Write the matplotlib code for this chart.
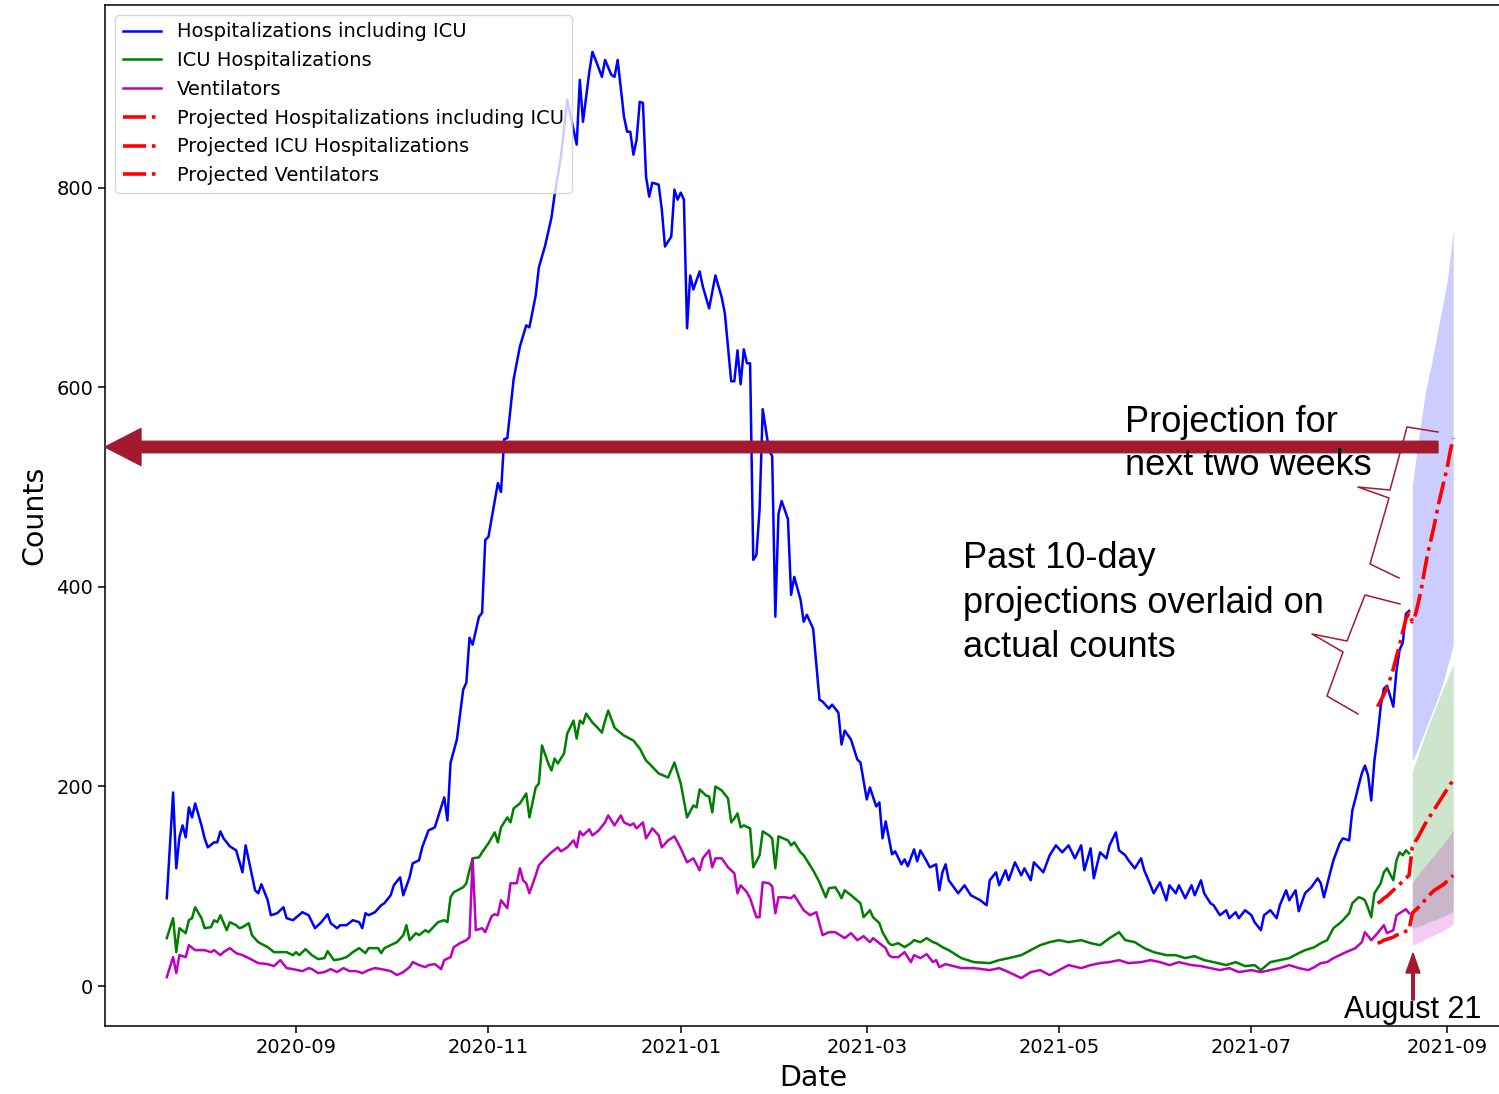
import numpy as np
import matplotlib
matplotlib.use("Agg")
import matplotlib.pyplot as plt
import matplotlib.dates as mdates
from matplotlib.patches import FancyArrow
from matplotlib.lines import Line2D

# data, days counted from the first reported day
start = np.datetime64("2020-07-22")

hosp_days = [0, 2, 3, 4, 5, 6, 7, 8, 9, 11, 12, 13, 15, 16, 17, 18, 20, 22, 24, 25, 26, 28, 29, 30,
             32, 33, 35, 37, 38, 40, 43, 45, 47, 49, 51, 52, 54, 55, 57, 59, 61, 62, 63, 64, 66, 68,
             69, 71, 72, 74, 75, 77, 78, 80, 81, 83, 85, 88, 89, 90, 92, 94, 95, 96, 97, 99, 100,
             101, 102, 105, 106, 107, 108, 110, 112, 114, 115, 117, 118, 120, 122, 123, 125, 127,
             130, 131, 132, 134, 135, 136, 138, 139, 141, 142, 143, 145, 146, 147, 148, 149, 150,
             151, 152, 153, 154, 156, 157, 158, 160, 161, 162, 163, 164, 165, 166, 167, 169, 170,
             172, 174, 176, 177, 179, 180, 181, 182, 183, 184, 185, 186, 187, 188, 189, 191, 192,
             193, 194, 195, 197, 198, 199, 201, 202, 203, 205, 207, 208, 210, 211, 213, 214, 215,
             217, 219, 220, 222, 223, 225, 226, 227, 228, 230, 231, 233, 234, 235, 237, 238, 239,
             241, 242, 244, 245, 246, 247, 248, 251, 253, 255, 258, 260, 261, 263, 264, 266, 267,
             269, 271, 272, 274, 275, 278, 280, 282, 284, 286, 288, 290, 291, 293, 294, 296, 298,
             299, 301, 302, 304, 305, 307, 309, 310, 312, 313, 315, 317, 318, 320, 321, 323, 325,
             326, 328, 329, 331, 332, 334, 336, 337, 339, 340, 342, 344, 345, 347, 348, 350, 352,
             353, 355, 356, 358, 359, 361, 363, 365, 366, 367, 369, 370, 372, 373, 375, 376, 377,
             378, 379, 380, 381, 382, 383, 384, 385, 386, 387, 389, 390, 391, 392, 393, 394]
hosp_vals = [88, 194, 118, 149, 161, 149, 179, 169, 183, 161, 148, 139, 144, 144, 155, 148, 140, 136,
             114, 141, 126, 96, 93, 102, 86, 71, 73, 79, 68, 66, 74, 71, 58, 64, 72, 63, 58, 61, 61,
             66, 64, 58, 73, 71, 74, 81, 83, 91, 101, 109, 91, 109, 123, 126, 139, 156, 159, 189,
             166, 224, 247, 297, 304, 349, 342, 370, 374, 447, 450, 504, 495, 548, 549, 608, 641,
             662, 660, 692, 720, 742, 770, 793, 831, 888, 843, 908, 866, 916, 936, 928, 911, 928,
             913, 911, 928, 871, 856, 856, 833, 848, 886, 885, 811, 791, 805, 803, 778, 741, 751,
             798, 788, 795, 788, 659, 712, 698, 716, 701, 679, 712, 690, 674, 606, 606, 637, 603,
             638, 624, 624, 427, 432, 477, 578, 537, 531, 370, 473, 486, 468, 392, 410, 387, 365,
             372, 358, 287, 285, 278, 282, 274, 242, 256, 247, 227, 224, 187, 199, 180, 184, 148,
             165, 132, 135, 122, 127, 120, 137, 125, 136, 125, 119, 122, 96, 114, 122, 106, 93, 101,
             91, 86, 81, 106, 114, 101, 116, 106, 124, 111, 118, 106, 124, 114, 131, 141, 134, 141,
             128, 141, 116, 138, 108, 134, 128, 141, 154, 136, 131, 126, 118, 128, 116, 101, 93,
             104, 86, 101, 93, 101, 88, 101, 91, 106, 93, 83, 81, 71, 76, 68, 74, 68, 76, 71, 64,
             56, 71, 76, 68, 81, 96, 86, 96, 75, 93, 99, 108, 103, 89, 114, 126, 143, 148, 146, 176,
             188, 201, 213, 221, 211, 186, 226, 250, 280, 298, 301, 280, 316, 337, 344, 373, 376]

icu_days = [0, 2, 3, 4, 6, 7, 8, 9, 11, 12, 14, 15, 16, 17, 19, 20, 22, 23, 24, 26, 27, 29, 32, 34,
            36, 38, 40, 41, 42, 44, 45, 46, 48, 50, 51, 53, 55, 57, 59, 61, 63, 64, 67, 68, 69, 71,
            73, 75, 76, 77, 79, 80, 82, 83, 86, 88, 89, 90, 91, 94, 95, 96, 97, 99, 100, 102, 104,
            105, 106, 108, 109, 110, 112, 114, 115, 117, 118, 119, 121, 122, 123, 124, 126, 127,
            129, 130, 131, 132, 133, 135, 136, 138, 139, 140, 142, 143, 145, 148, 150, 152, 153,
            156, 159, 161, 163, 165, 167, 168, 169, 171, 172, 173, 174, 176, 178, 179, 180, 181,
            182, 183, 185, 186, 188, 189, 191, 192, 193, 194, 197, 198, 199, 201, 202, 205, 207,
            209, 210, 212, 213, 214, 215, 217, 220, 221, 223, 224, 226, 227, 229, 230, 232, 234,
            236, 237, 239, 241, 243, 244, 246, 248, 252, 256, 261, 264, 267, 271, 274, 277, 280,
            283, 286, 290, 293, 296, 299, 302, 304, 307, 310, 313, 317, 320, 323, 326, 329, 332,
            336, 339, 342, 345, 347, 350, 353, 356, 359, 361, 364, 366, 368, 370, 372, 373, 375,
            376, 378, 379, 380, 381, 382, 383, 385, 386, 387, 389, 390, 391, 392, 393, 394]
icu_vals = [48, 68, 34, 58, 53, 66, 68, 79, 68, 58, 59, 66, 64, 71, 56, 64, 61, 58, 59, 63, 51, 44,
            39, 34, 34, 34, 31, 34, 31, 37, 34, 31, 27, 28, 35, 26, 27, 29, 34, 38, 33, 38, 38, 33,
            38, 41, 44, 51, 61, 46, 53, 51, 56, 54, 64, 66, 64, 89, 94, 99, 103, 116, 128, 129,
            134, 143, 154, 144, 159, 169, 164, 178, 183, 193, 169, 199, 203, 241, 223, 216, 228,
            223, 233, 253, 266, 248, 266, 263, 273, 264, 261, 254, 266, 276, 259, 256, 251, 246,
            238, 226, 223, 213, 209, 224, 203, 169, 181, 179, 197, 191, 190, 174, 200, 196, 188,
            164, 168, 173, 159, 161, 158, 119, 131, 155, 151, 148, 118, 150, 146, 141, 144, 134,
            131, 116, 104, 89, 98, 99, 94, 88, 96, 91, 83, 69, 76, 69, 63, 54, 43, 41, 43, 39, 43,
            46, 44, 48, 44, 43, 39, 36, 28, 24, 23, 26, 28, 31, 36, 41, 44, 46, 44, 46, 43, 41, 48,
            54, 46, 44, 38, 34, 31, 31, 28, 30, 26, 24, 21, 24, 20, 21, 16, 24, 26, 28, 33, 36, 39,
            43, 46, 58, 63, 66, 73, 83, 89, 88, 86, 78, 69, 93, 103, 114, 118, 106, 126, 134, 131,
            136, 133]

vent_days = [0, 2, 3, 4, 6, 7, 9, 12, 14, 15, 17, 18, 20, 22, 24, 26, 29, 32, 34, 36, 38, 40, 43,
             45, 46, 48, 50, 52, 54, 56, 58, 60, 62, 64, 66, 68, 71, 73, 75, 77, 78, 80, 82, 83,
             85, 87, 88, 90, 91, 93, 95, 96, 97, 98, 100, 101, 103, 104, 105, 106, 108, 109, 111,
             112, 113, 114, 115, 117, 118, 120, 122, 124, 125, 127, 129, 130, 131, 132, 134, 135,
             137, 139, 140, 142, 144, 145, 147, 148, 149, 151, 152, 154, 156, 157, 159, 161, 163,
             165, 167, 169, 170, 172, 173, 174, 176, 178, 180, 181, 182, 184, 185, 187, 188, 189,
             191, 192, 193, 194, 196, 198, 199, 200, 202, 204, 206, 208, 210, 212, 215, 217, 219,
             221, 223, 224, 226, 228, 229, 230, 232, 234, 236, 237, 239, 241, 243, 244, 245, 247,
             252, 256, 261, 264, 267, 271, 274, 277, 280, 283, 286, 290, 293, 296, 299, 302, 305,
             309, 312, 315, 318, 321, 325, 328, 331, 334, 337, 340, 344, 347, 350, 353, 356, 359,
             362, 364, 366, 368, 370, 372, 374, 377, 379, 380, 382, 384, 386, 387, 389, 390, 391,
             393, 394]
vent_vals = [9, 29, 13, 31, 29, 41, 36, 36, 34, 36, 31, 34, 38, 33, 31, 28, 23, 22, 20, 26, 18, 17,
             15, 18, 17, 13, 14, 17, 14, 18, 15, 15, 13, 16, 18, 17, 15, 11, 14, 19, 24, 21, 19,
             21, 22, 17, 26, 29, 39, 43, 46, 49, 128, 56, 58, 54, 70, 72, 71, 86, 78, 103, 103, 118,
             106, 103, 93, 111, 121, 128, 134, 139, 135, 139, 146, 139, 155, 151, 157, 151, 156,
             164, 171, 161, 171, 164, 161, 163, 158, 164, 148, 158, 151, 139, 146, 150, 138, 124,
             128, 116, 128, 136, 119, 128, 128, 119, 113, 93, 101, 94, 88, 69, 69, 104, 103, 100,
             73, 89, 89, 88, 91, 86, 76, 71, 74, 51, 54, 54, 48, 53, 46, 50, 44, 48, 43, 38, 31,
             29, 29, 34, 24, 31, 28, 32, 24, 26, 19, 22, 18, 18, 16, 18, 14, 8, 14, 16, 11, 16, 21,
             18, 21, 23, 24, 26, 23, 24, 26, 24, 21, 24, 21, 20, 18, 16, 18, 14, 16, 14, 16, 18, 21,
             18, 16, 19, 23, 24, 28, 31, 34, 38, 44, 54, 46, 53, 61, 53, 56, 71, 73, 77, 73]

# projections: past 10 days overlaid on the counts, then the next two weeks
proj_days = list(range(384, 409))
proj_hosp = [280, 286, 292, 299, 308, 318, 330, 342, 355, 368, 374,
             365, 372, 385, 400, 418, 435, 448, 462, 478, 492, 505, 518, 535, 549]
proj_icu = [83, 85, 88, 90, 93, 96, 99, 102, 105, 108, 111,
            139, 145, 150, 156, 162, 167, 172, 177, 182, 187, 192, 197, 202, 206]
proj_vent = [43, 44, 46, 47, 48, 49, 51, 52, 53, 55, 56,
             73, 76, 79, 82, 86, 90, 93, 96, 98, 100, 102, 105, 108, 111]

band_days = list(range(395, 409))
hosp_hi = [500, 525, 548, 570, 592, 608, 622, 638, 655, 672, 688, 705, 730, 757]
hosp_lo = [225, 232, 240, 248, 256, 264, 272, 280, 288, 297, 307, 318, 330, 342]
icu_hi = [215, 224, 233, 242, 251, 260, 268, 276, 284, 292, 300, 307, 315, 322]
icu_lo = [58, 59, 60, 61, 62, 64, 65, 66, 67, 69, 70, 72, 73, 75]
vent_hi = [104, 108, 112, 116, 120, 124, 128, 131, 135, 139, 143, 147, 152, 157]
vent_lo = [41, 42, 44, 45, 47, 48, 50, 51, 53, 54, 56, 58, 60, 62]


def to_dates(days):
    return start + np.array(days, dtype="timedelta64[D]")


plt.rcParams["font.size"] = 13.8
plt.rcParams["axes.linewidth"] = 1.1

W, H = 1499, 1094
fig = plt.figure(figsize=(W / 100, H / 100), dpi=100)
# the screenshot is cropped: the right side of the axes lies outside the picture
ax = fig.add_axes([105 / W, 68 / H, 1416 / W, 1021 / H])

ax.plot(to_dates(hosp_days), hosp_vals, color="blue", lw=1.8, label="Hospitalizations including ICU")
ax.plot(to_dates(icu_days), icu_vals, color="green", lw=1.8, label="ICU Hospitalizations")
ax.plot(to_dates(vent_days), vent_vals, color="m", lw=1.8, label="Ventilators")

bd = to_dates(band_days)
ax.fill_between(bd, hosp_lo, hosp_hi, color="blue", alpha=0.2, lw=0)
ax.fill_between(bd, icu_lo, icu_hi, color="green", alpha=0.2, lw=0)
ax.fill_between(bd, vent_lo, vent_hi, color="m", alpha=0.2, lw=0)

pd_ = to_dates(proj_days)
ax.plot(pd_, proj_hosp, "r-.", lw=2.6, label="Projected Hospitalizations including ICU")
ax.plot(pd_, proj_icu, "r-.", lw=2.6, label="Projected ICU Hospitalizations")
ax.plot(pd_, proj_vent, "r-.", lw=2.6, label="Projected Ventilators")

d0 = mdates.date2num(start.astype("datetime64[D]").item())
ax.set_xlim(d0 - 19.6, d0 - 19.6 + 1416 / 3.153)
ax.set_ylim(-40, 983)

ax.xaxis.set_major_locator(mdates.MonthLocator(bymonth=[1, 3, 5, 7, 9, 11]))
ax.xaxis.set_major_formatter(mdates.DateFormatter("%Y-%m"))
ax.set_yticks([0, 200, 400, 600, 800])
ax.tick_params(length=5, width=1.1, labelsize=14)

ax.set_xlabel("Date", fontsize=20.5, labelpad=5)
ax.set_ylabel("Counts", fontsize=20.5, labelpad=6)
ax.legend(loc="upper left", fontsize=14, labelspacing=0.5)

# annotations added on top of the figure (pixel positions of the screenshot)
ink = "#a31a2f"


def inch(x, y):
    return x / 100, (H - y) / 100


tx, ty = inch(1438, 447)
fig.add_artist(FancyArrow(tx, ty, -(1438 - 105) / 100, 0, width=0.115, head_width=0.37,
                          head_length=0.36, length_includes_head=True, color=ink,
                          transform=fig.dpi_scale_trans, zorder=5))

bx, by = inch(1413, 1000)
fig.add_artist(FancyArrow(bx, by, 0, 0.47, width=0.025, head_width=0.14, head_length=0.2,
                          length_includes_head=True, color=ink,
                          transform=fig.dpi_scale_trans, zorder=5))

braces = [
    [(1438, 432), (1407, 427), (1390, 490), (1358, 487), (1389, 498), (1370, 564), (1399, 578)],
    [(1400, 604), (1365, 595), (1347, 641), (1312, 634), (1343, 652), (1327, 696), (1358, 714)],
]
for br in braces:
    pts = [inch(x, y) for x, y in br]
    fig.add_artist(Line2D([p[0] for p in pts], [p[1] for p in pts], color=ink, lw=1.1,
                          transform=fig.dpi_scale_trans, zorder=5))

note = dict(fontsize=26, family="Liberation Sans", color="black", va="baseline", zorder=6)
for line, y in [("Projection for", 432), ("next two weeks", 475)]:
    fig.text(1125 / W, 1 - y / H, line, **note)
for line, y in [("Past 10-day", 568), ("projections overlaid on", 613), ("actual counts", 657)]:
    fig.text(963 / W, 1 - y / H, line, **note)
fig.text(1413 / W, 1 - 1018 / H, "August 21", fontsize=22, family="Liberation Sans",
         ha="center", va="baseline", zorder=6)

fig.savefig("out.png", dpi=100)
